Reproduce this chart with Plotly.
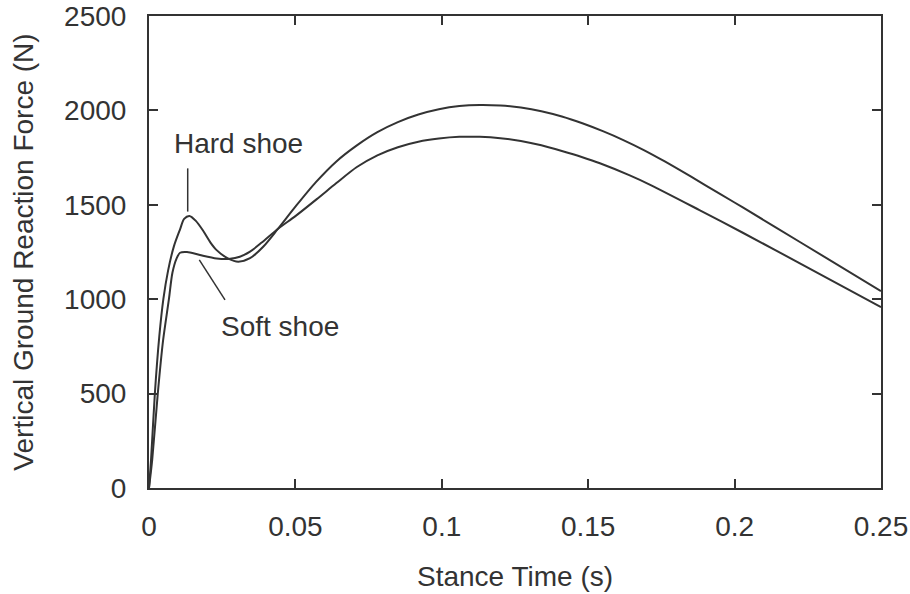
import plotly.graph_objects as go

# Stance time (s) and vertical GRF (N)
hard_t = [0, 0.0007, 0.002, 0.0035, 0.0049, 0.0065, 0.0085, 0.0106, 0.0120, 0.0138,
          0.0160, 0.0186, 0.0210, 0.0231, 0.0271, 0.0305, 0.0345, 0.039, 0.044, 0.050,
          0.057, 0.064, 0.071, 0.078, 0.085, 0.092, 0.099, 0.106, 0.113, 0.120,
          0.127, 0.134, 0.141, 0.148, 0.155, 0.162, 0.169, 0.176, 0.185, 0.195,
          0.2028, 0.2223, 0.25]
hard_f = [0, 150, 500, 800, 1000, 1150, 1280, 1370, 1425, 1441,
          1415, 1360, 1300, 1260, 1215, 1199, 1217, 1278, 1372, 1490,
          1620, 1730, 1815, 1885, 1938, 1978, 2006, 2023, 2029, 2026,
          2015, 1996, 1968, 1932, 1890, 1843, 1790, 1731, 1650, 1558,
          1486, 1303, 1043]

soft_t = [0, 0.0011, 0.003, 0.0048, 0.0068, 0.0080, 0.0094, 0.0106, 0.013, 0.0174,
          0.0231, 0.0277, 0.0310, 0.0345, 0.0385, 0.044, 0.050, 0.0573, 0.064, 0.071,
          0.078, 0.085, 0.092, 0.099, 0.106, 0.113, 0.120, 0.127, 0.134, 0.141,
          0.148, 0.154, 0.164, 0.171, 0.188, 0.2028, 0.2223, 0.25]
soft_f = [0, 150, 500, 780, 1000, 1140, 1215, 1246, 1250, 1234,
          1216, 1214, 1225, 1252, 1300, 1372, 1440, 1530, 1615, 1700,
          1762, 1805, 1834, 1851, 1860, 1860, 1853, 1838, 1815, 1785,
          1752, 1720, 1657, 1607, 1472, 1352, 1190, 958]

x_ticks = [0, 0.05, 0.1, 0.15, 0.2, 0.25]
x_tick_labels = ["0", "0.05", "0.1", "0.15", "0.2", "0.25"]
y_ticks = [0, 500, 1000, 1500, 2000, 2500]
y_tick_labels = ["0", "500", "1000", "1500", "2000", "2500"]

ink = "#333333"
font_family = "Liberation Sans, Arial, Helvetica, sans-serif"
fs = 28

fig = go.Figure()
fig.add_trace(go.Scatter(x=hard_t, y=hard_f, mode="lines", name="Hard shoe",
                         line=dict(color=ink, width=2, shape="spline", smoothing=0.8)))
fig.add_trace(go.Scatter(x=soft_t, y=soft_f, mode="lines", name="Soft shoe",
                         line=dict(color=ink, width=2, shape="spline", smoothing=0.8)))

axis_common = dict(showgrid=False, zeroline=False, showline=True, linecolor=ink, linewidth=2,
                   mirror="ticks", ticks="inside", ticklen=9, tickwidth=1.5, tickcolor=ink,
                   automargin=False,
                   tickfont=dict(family=font_family, size=fs, color=ink))

fig.update_xaxes(range=[0, 0.25], tickvals=x_ticks, ticktext=x_tick_labels,
                 title=dict(text="Stance Time (s)", font=dict(family=font_family, size=fs, color=ink),
                            standoff=26),
                 ticklabelstandoff=12, **axis_common)
fig.update_yaxes(range=[0, 2500], tickvals=y_ticks, ticktext=y_tick_labels,
                 title=dict(text="Vertical Ground Reaction Force (N)",
                            font=dict(family=font_family, size=fs, color=ink), standoff=22),
                 ticklabelstandoff=15, **axis_common)

# Labels with leader lines
fig.add_annotation(x=0.0304, y=1827, text="Hard shoe", showarrow=False,
                   font=dict(family=font_family, size=fs, color=ink))
fig.add_annotation(x=0.0447, y=853, text="Soft shoe", showarrow=False,
                   font=dict(family=font_family, size=fs, color=ink))
fig.add_shape(type="line", x0=0.01322, y0=1693, x1=0.01322, y1=1464,
              line=dict(color=ink, width=1.5))
fig.add_shape(type="line", x0=0.01718, y0=1208, x1=0.02596, y1=996,
              line=dict(color=ink, width=1.5))

fig.update_layout(width=910, height=594, showlegend=False,
                  plot_bgcolor="white", paper_bgcolor="white",
                  margin=dict(l=149, r=29, t=16, b=106))

fig.write_html("out.html")
